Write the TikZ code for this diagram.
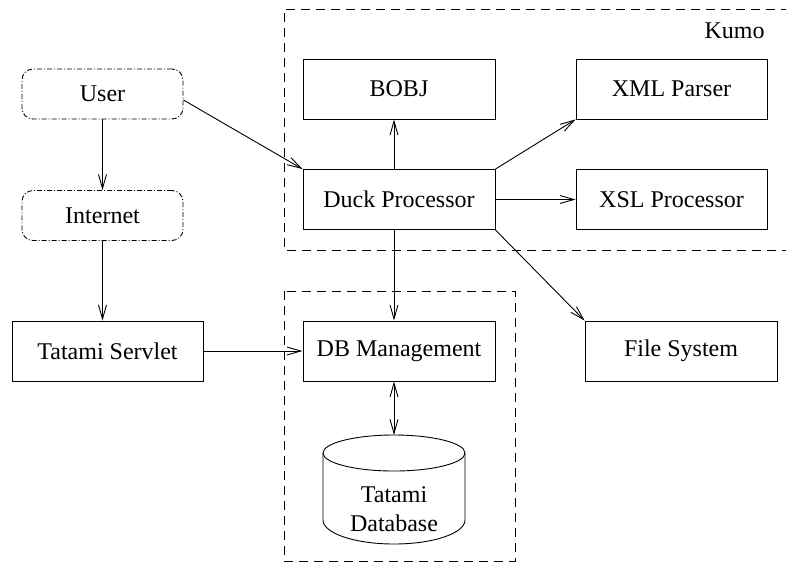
\documentclass[tikz,border=0pt]{standalone}
\usepackage{fontspec}
\setmainfont{Liberation Serif}
\usetikzlibrary{arrows.meta}
\begin{document}
\begin{tikzpicture}[x=1pt,y=-1pt,
  line width=0.9pt,
  every node/.style={font=\fontsize{24}{29}\selectfont, inner sep=0pt},
  box/.style={draw, rectangle, minimum width=192pt, minimum height=60pt},
  cloud/.style={draw, rectangle, rounded corners=11pt, minimum width=161pt, minimum height=50pt,
                dash pattern=on 5pt off 2pt on 1pt off 2pt},
  grp/.style={draw, dash pattern=on 9pt off 6pt},
  arr/.style={-{Straight Barb[length=14pt,width=8pt,line width=0.9pt]}},
  darr/.style={{Straight Barb[length=14pt,width=8pt,line width=0.9pt]}-{Straight Barb[length=14pt,width=8pt,line width=0.9pt]}}]
\useasboundingbox (0,0) rectangle (786,563);
% groups
\draw[grp] (790,9) -- (284,9) -- (284,250) -- (790,250);
\draw[grp] (284,291) rectangle (515,561);
\node[anchor=base east] (kumo) at (765,38) {Kumo};
% nodes
\node[cloud] (user) at (102.5,94) {User};
\node[cloud] (internet) at (102.5,215.5) {Internet};
\node[box, minimum width=191pt] (servlet) at (107.5,351) {Tatami Servlet};
\node[box] (bobj) at (399,89) {BOBJ};
\node[box] (duck) at (399,199.5) {Duck Processor};
\node[box, minimum width=191pt] (xml) at (671.5,89) {XML Parser};
\node[box, minimum width=191pt] (xsl) at (671.5,199.5) {XSL Processor};
\node[box] (dbm) at (399,351) {DB Management};
\node[box] (fs) at (681,351) {File System};
% cylinder
\draw (323,453) -- (323,520) arc[start angle=180, end angle=0, x radius=71, y radius=24] -- (465,453);
\draw (394,453) ellipse[x radius=71, y radius=18];
\coordinate (dbtop) at (394,435);
\node[align=center] (tdb) at (394,509) {Tatami\\Database};
% connectors
\draw[arr] (user.east) ++(0,6) coordinate (ue) (ue) -- (duck.north west);
\draw[arr] (user) -- (internet);
\draw[arr] (internet.south) -- (internet.south |- servlet.north);
\draw[arr] (servlet) -- (dbm);
\draw[arr] ([xshift=-5pt]duck.north) -- ([xshift=-5pt]bobj.south);
\draw[arr] (duck.north east) -- (xml.south west);
\draw[arr] (duck) -- (xsl);
\draw[arr] (duck.south east) -- (fs.north west);
\draw[arr] ([xshift=-5pt]duck.south) -- ([xshift=-5pt]dbm.north);
\draw[darr] ([xshift=-5pt]dbm.south) -- (dbtop);
\end{tikzpicture}
\end{document}
